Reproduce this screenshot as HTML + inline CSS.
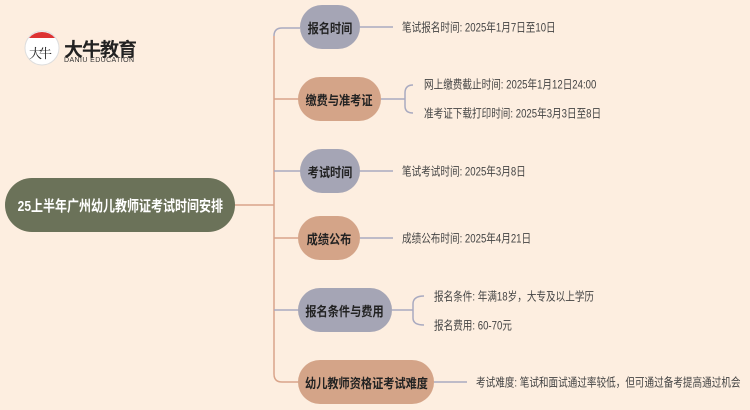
<!DOCTYPE html>
<html><head><meta charset="utf-8"><style>
body{margin:0;width:750px;height:410px;background:#fdeee0;overflow:hidden;position:relative;font-family:"Liberation Sans","Noto Sans CJK SC",sans-serif}
.n{position:absolute;height:44px;border-radius:22px;display:flex;align-items:center;justify-content:center;font-weight:bold;font-size:13px;color:#222;white-space:nowrap}
.n span{display:inline-block;transform:scaleX(0.86)}
.g{background:#a5a5b5}.t{background:#d4a488}
.l{position:absolute;font-size:12px;color:#444;white-space:nowrap;transform:translateY(-50%) scaleX(0.8);transform-origin:left center}
</style></head><body>
<svg width="750" height="410" style="position:absolute;left:0;top:0">
<g fill="none" stroke-width="1.5">
<path d="M235 205 H274" stroke="#d9a48a"/>
<path d="M274 36 Q274 28 282 28 H300" stroke="#a9aac0"/>
<path d="M274 36 V374 Q274 382 282 382 H300" stroke="#d9a48a"/>
<path d="M274 99 H300" stroke="#d9a48a"/>
<path d="M274 171 H300" stroke="#a9aac0"/>
<path d="M274 238 H300" stroke="#d9a48a"/>
<path d="M274 310 H300" stroke="#a9aac0"/>
<g stroke="#a9aac0">
<path d="M360 27 H393"/><path d="M381 99 H405 M413 85 Q405 85 405 93 V106 Q405 113 413 113"/>
<path d="M360 171 H393"/><path d="M360 238 H393"/>
<path d="M392 310 H413 M424 296 Q413 296 413 304 V318 Q413 325 424 325"/>
<path d="M434 382 H467"/>
</g></g>
<circle cx="42" cy="48" r="17" fill="#fff" stroke="#ddd"/>
<path d="M29 38 A17 17 0 0 1 55 38 Z" fill="#d33"/>
<text x="29" y="58" font-size="13" font-family="Noto Serif CJK SC" fill="#222" letter-spacing="-3">大牛</text>
</svg>
<div style="position:absolute;left:64px;top:35px;font-size:19px;font-weight:bold;color:#222;letter-spacing:-1px">大牛教育</div>
<div style="position:absolute;left:64px;top:57px;font-size:7px;color:#333;letter-spacing:0.4px">DANIU EDUCATION</div>
<div class="n" style="left:5px;top:178px;width:230px;height:54px;border-radius:27px;background:#6b7259;color:#fff;font-size:15px"><span style="transform:scaleX(0.8)">25上半年广州幼儿教师证考试时间安排</span></div>
<div class="n g" style="left:300px;top:5px;width:60px"><span>报名时间</span></div>
<div class="n t" style="left:298px;top:77px;width:83px"><span>缴费与准考证</span></div>
<div class="n g" style="left:300px;top:149px;width:60px"><span>考试时间</span></div>
<div class="n t" style="left:298px;top:216px;width:62px"><span>成绩公布</span></div>
<div class="n g" style="left:298px;top:288px;width:94px"><span>报名条件与费用</span></div>
<div class="n t" style="left:298px;top:360px;width:136px"><span>幼儿教师资格证考试难度</span></div>
<div class="l" style="left:402px;top:27px">笔试报名时间: 2025年1月7日至10日</div>
<div class="l" style="left:424px;top:84px">网上缴费截止时间: 2025年1月12日24:00</div>
<div class="l" style="left:424px;top:113px">准考证下载打印时间: 2025年3月3日至8日</div>
<div class="l" style="left:402px;top:171px">笔试考试时间: 2025年3月8日</div>
<div class="l" style="left:402px;top:238px">成绩公布时间: 2025年4月21日</div>
<div class="l" style="left:434px;top:296px">报名条件: 年满18岁，大专及以上学历</div>
<div class="l" style="left:434px;top:325px">报名费用: 60-70元</div>
<div class="l" style="left:476px;top:382px">考试难度: 笔试和面试通过率较低，但可通过备考提高通过机会</div>
</body></html>
